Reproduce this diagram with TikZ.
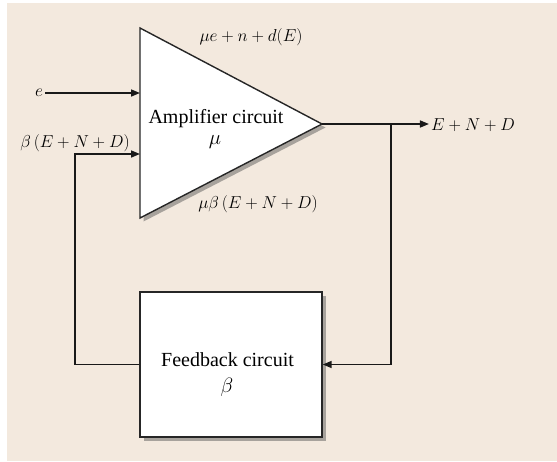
\documentclass[tikz,border=0pt]{standalone}
\usepackage{fontspec}
\setmainfont{Liberation Serif}
\usepackage{xcolor}
\usetikzlibrary{arrows.meta, positioning, calc, shadows}
\definecolor{paper}{RGB}{243,233,222}

\begin{document}
\begin{tikzpicture}[
    x=1pt, y=-1pt,
    font=\fontsize{20}{24}\selectfont,
    block/.style={draw=black!85, fill=white, line width=1.4pt, drop shadow={shadow xshift=3.5pt, shadow yshift=-3.5pt, fill=black!70, opacity=0.45}},
    title/.style={inner sep=1pt, font=\fontsize{20}{24}\selectfont},
    lbl/.style={inner sep=2pt, font=\fontsize{17}{20}\selectfont},
    line/.style={draw=black!90, line width=1.6pt, -{Triangle[length=9pt, width=7pt]}}
]
    \useasboundingbox (0,0) rectangle (557,461);
    \fill[paper] (7,3) rectangle (557,461);

    % Amplifier triangle
    \coordinate (ampTop) at (140,28);
    \coordinate (ampBot) at (140,218);
    \coordinate (ampTip) at (322,124);
    \path[block] (ampTop) -- (ampTip) -- (ampBot) -- cycle;
    \node[title] (amp) at (216,119) {Amplifier circuit};
    \node[title] (ampmu) at (215,142) {$\mu$};

    % Feedback block
    \node[block, minimum width=182, minimum height=145] (fb) at (231,364.5) {};
    \node[title] (fbtext) at (227.5,360) {Feedback circuit};
    \node[title] (fbbeta) at (227,387) {$\beta$};

    % Labels
    \node[lbl] (ein) at (39,93) {$e$};
    \node[lbl] (fbsig) at (75,143) {$\beta\,(E+N+D)$};
    \node[lbl] (out) at (473,125) {$E+N+D$};
    \node[lbl] (top) at (251,37) {$\mu e+n+d(E)$};
    \node[lbl] (bot) at (258,204) {$\mu\beta\,(E+N+D)$};

    % Helper points
    \coordinate (ampIn1) at (ein -| ampTop);
    \coordinate (ampIn2) at (140,154);
    \coordinate (ret) at (75,154);
    \coordinate (branch) at (391,124);

    % Connections
    \path[line] (ein.east) -- (ampIn1);
    \path[line] (ampTip) -- (out.west |- ampTip);
    \path[line] (branch) |- (fb.east);
    \path[line] (fb.west) -| (ret) -- (ampIn2);

\end{tikzpicture}
\end{document}
